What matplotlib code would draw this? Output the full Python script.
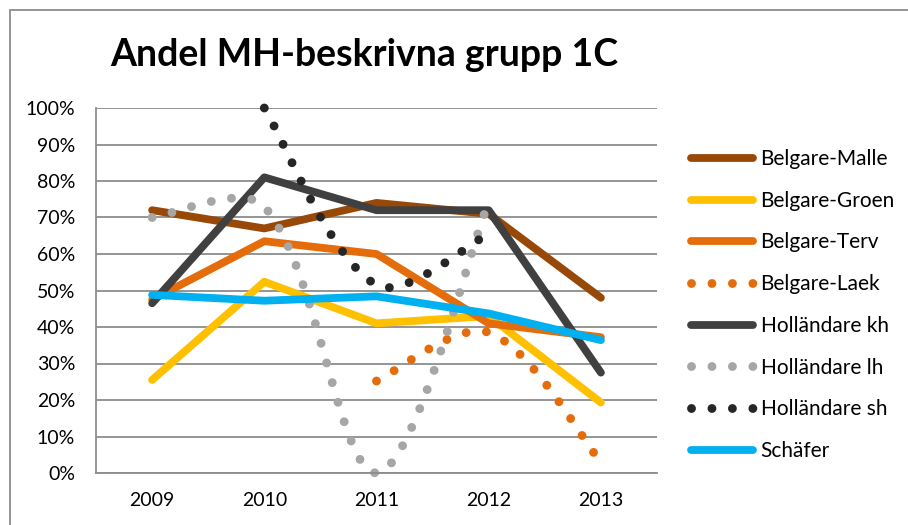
import numpy as np
import matplotlib
matplotlib.use("Agg")
import matplotlib.pyplot as plt
from matplotlib.patches import Rectangle

plt.rcParams['font.family'] = ['Lato', 'DejaVu Sans']

years = [2009, 2010, 2011, 2012, 2013]

malle = [0.72, 0.67, 0.74, 0.71, 0.48]
groen = [0.255, 0.524, 0.41, 0.43, 0.193]
terv = [0.475, 0.635, 0.60, 0.41, 0.372]
laek_years = [2011, 2012, 2013]
laek = [0.252, 0.385, 0.03]
kh = [0.465, 0.81, 0.72, 0.72, 0.275]
lh_years = [2009, 2010, 2011, 2012]
lh = [0.70, 0.73, 0.0, 0.742]
sh_years = [2010, 2011, 2012]
sh = [1.0, 0.515, 0.655]
schafer = [0.488, 0.472, 0.484, 0.437, 0.364]

def smooth(xs, ys, n=40, sx=112.0, sy=365.0):
    # smoothed line like excel: bezier segments, tangents scaled by chord length (pixel space)
    p = np.column_stack([np.array(xs, float) * sx, np.array(ys, float) * sy])
    m = len(p)
    d = np.hypot(*np.diff(p, axis=0).T)
    out = []
    t = np.linspace(0, 1, n)[:, None]
    for i in range(m - 1):
        p0, p3 = p[i], p[i+1]
        if i == 0:
            c1 = p0 + (p3 - p0) / 6
        else:
            c1 = p0 + (p[i+1] - p[i-1]) * d[i] / (d[i-1] + d[i]) / 3
        if i == m - 2:
            c2 = p3 - (p3 - p0) / 6
        else:
            c2 = p3 - (p[i+2] - p[i]) * d[i] / (d[i] + d[i+1]) / 3
        b = (1-t)**3*p0 + 3*(1-t)**2*t*c1 + 3*(1-t)*t**2*c2 + t**3*p3
        if i > 0:
            b = b[1:]
        out.append(b)
    out = np.vstack(out)
    return out[:, 0] / sx, out[:, 1] / sy

fig = plt.figure(figsize=(9.08, 5.25), dpi=100)
fig.patches.append(Rectangle((10/908, -0.1), 1.2, 1 - 10/525 + 0.1, transform=fig.transFigure,
                             fill=False, edgecolor='#8c8c8c', linewidth=1.3))

ax = fig.add_axes([96/908, 52/525, 561/908, 365/525])
ax.set_xlim(2008.5, 2013.5)
ax.set_ylim(0, 1)

lw = 5.6
dlw = 6.4
dots = (0.001, 2.3)

ax.plot(years, malle, color='#984807', lw=lw, solid_capstyle='round', solid_joinstyle='round', label='Belgare-Malle')
ax.plot(years, groen, color='#FFC000', lw=lw, solid_capstyle='round', solid_joinstyle='round', label='Belgare-Groen')
ax.plot(years, terv, color='#E46C0A', lw=lw, solid_capstyle='round', solid_joinstyle='round', label='Belgare-Terv')
sx, sy = smooth(laek_years, laek)
ax.plot(sx, sy, color='#E46C0A', lw=dlw, dashes=dots, dash_capstyle='round', label='Belgare-Laek', clip_on=False)
ax.plot(years, kh, color='#404040', lw=lw, solid_capstyle='round', solid_joinstyle='round', label='Holländare kh')
sx, sy = smooth(lh_years, lh)
ax.plot(sx, sy, color='#A6A6A6', lw=dlw, dashes=dots, dash_capstyle='round', label='Holländare lh', clip_on=False)
sx, sy = smooth(sh_years, sh)
ax.plot(sx, sy, color='#262626', lw=dlw, dashes=dots, dash_capstyle='round', label='Holländare sh', clip_on=False)
ax.plot(years, schafer, color='#00B0F0', lw=lw, solid_capstyle='round', solid_joinstyle='round', label='Schäfer')

ax.set_xticks(years)
ax.set_xticklabels([str(y) for y in years])
ax.set_yticks(np.arange(0, 1.01, 0.1))
ax.set_yticklabels([f"{int(round(v*100))}%" for v in np.arange(0, 1.01, 0.1)])
ax.tick_params(length=0, labelsize=14, colors='black')
ax.tick_params(axis='y', pad=15)
ax.tick_params(axis='x', pad=14)
ax.grid(axis='y', color='#8c8c8c', linewidth=1.3)
ax.set_axisbelow(True)
for s in ['top', 'right']:
    ax.spines[s].set_visible(False)
for s in ['left', 'bottom']:
    ax.spines[s].set_color('#8c8c8c')
    ax.spines[s].set_linewidth(1.3)

fig.text(364/908, 1 - 55/525, 'Andel MH-beskrivna grupp 1C', ha='center', va='center',
         fontsize=27, fontweight='bold')

fig.legend(loc='center left', bbox_to_anchor=(672/908, 1 - 305/525), frameon=False,
           fontsize=15, handlelength=3.0, handletextpad=0.35, labelspacing=1.04)

fig.savefig('out.png', dpi=100)
